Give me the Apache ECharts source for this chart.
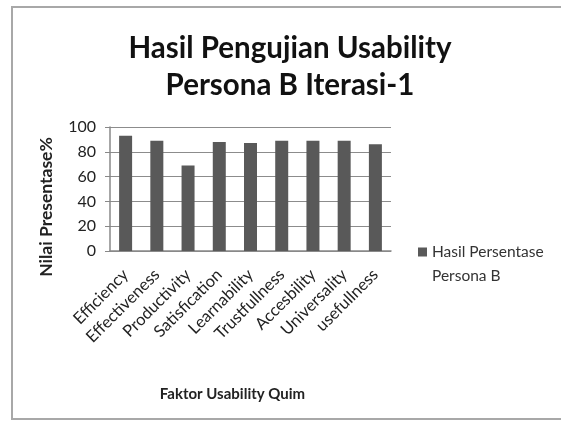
<!DOCTYPE html>
<html>
<head>
<meta charset="utf-8">
<script src="https://cdn.jsdelivr.net/npm/echarts@6/dist/echarts.min.js"></script>
<style>
  html, body { margin: 0; padding: 0; background: #fff; }
  #chart { width: 561px; height: 421px; }
</style>
</head>
<body>
<div id="chart"></div>
<script>
// data
var categories = ['Efficiency', 'Effectiveness', 'Productivity', 'Satisfication', 'Learnability',
  'Trustfullness', 'Accesbility', 'Universality', 'usefullness'];
var nilai = [93, 89, 69, 88, 87, 89, 89, 89, 86];
var yTicks = [0, 20, 40, 60, 80, 100];

var font = 'Lato';
var chart = echarts.init(document.getElementById('chart'));

var option = {
  backgroundColor: '#fff',
  animation: false,
  title: {
    text: 'Hasil Pengujian Usability\nPersona B Iterasi-1',
    left: 285,
    top: 25,
    textAlign: 'center',
    textStyle: {
      fontFamily: font,
      fontSize: 29.5,
      fontWeight: 'bold',
      color: '#111',
      lineHeight: 37
    }
  },
  legend: {
    left: 413,
    top: 211,
    itemWidth: 9,
    itemHeight: 9,
    itemGap: 5,
    icon: 'rect',
    // blank first line keeps the marker level with "Hasil Persentase"
    formatter: function () { return ' \nHasil Persentase\nPersona B'; },
    textStyle: {
      fontFamily: font,
      fontSize: 15.5,
      color: '#333',
      lineHeight: 24
    }
  },
  graphic: [{
    type: 'rect',
    shape: { x: 12, y: 7, width: 560, height: 412 },
    style: { fill: 'none', stroke: '#a8a8a8', lineWidth: 2 },
    silent: true
  }],
  grid: {
    left: 110,
    right: 170,
    top: 127,
    bottom: 170
  },
  xAxis: {
    type: 'category',
    data: categories,
    name: 'Faktor Usability Quim',
    nameLocation: 'middle',
    nameGap: 136,
    nameTextStyle: {
      fontFamily: font,
      fontSize: 15,
      fontWeight: 'bold',
      color: '#222',
      padding: [0, 36, 0, 0]
    },
    axisLine: { lineStyle: { color: '#888', width: 1.5 } },
    axisTick: { show: false },
    axisLabel: {
      rotate: 45,
      interval: 0,
      margin: 21,
      fontFamily: font,
      fontSize: 16.5,
      color: '#222'
    }
  },
  yAxis: {
    type: 'value',
    min: 0,
    max: 100,
    interval: 20,
    name: 'Nilai Presentase%',
    nameLocation: 'middle',
    nameGap: 55,
    nameRotate: 90,
    nameTextStyle: {
      fontFamily: font,
      fontSize: 17.5,
      fontWeight: 'bold',
      color: '#222',
      padding: [0, 36, 0, 0]
    },
    axisLine: { show: true, lineStyle: { color: '#888', width: 1.5 } },
    axisTick: { show: true, inside: false, length: 5, lineStyle: { color: '#888' } },
    axisLabel: {
      margin: 14,
      fontFamily: font,
      fontSize: 16,
      color: '#222',
      formatter: function (v) { return yTicks.indexOf(v) >= 0 ? String(v) : ''; }
    },
    splitLine: { lineStyle: { color: '#8c8c8c', width: 1.2 } }
  },
  series: [{
    name: 'Hasil Persentase Persona B',
    type: 'bar',
    data: nilai,
    barWidth: 13,
    itemStyle: { color: '#595959' }
  }]
};

chart.setOption(option);
</script>
</body>
</html>
